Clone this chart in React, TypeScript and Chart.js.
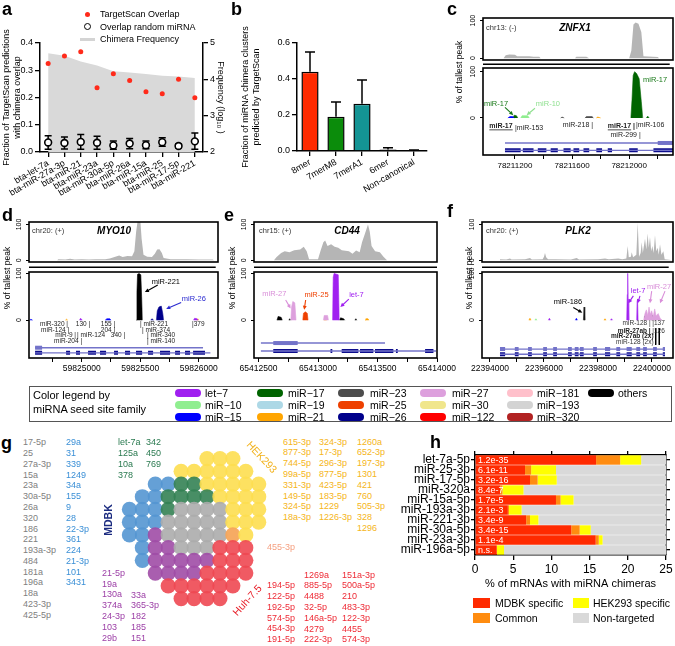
import React, { useEffect, useRef } from 'react';
import { Chart, registerables } from 'chart.js';

Chart.register(...registerables);
const FONT = "'Liberation Sans', Arial, Helvetica, sans-serif";
Chart.defaults.font.family = FONT;
Chart.defaults.color = '#000';

// ---------------- Panel a ----------------
const aMirnas = ['bta-let-7a', 'bta-miR-27a-3p', 'bta-miR-21', 'bta-miR-23a', 'bta-miR-30a-5p', 'bta-miR-26a', 'bta-miR-15a', 'bta-miR-25', 'bta-miR-17-5p', 'bta-miR-221'];
const aTargetScan = [0.325, 0.352, 0.368, 0.236, 0.287, 0.262, 0.221, 0.214, 0.267, 0.199];
const aRandom = [0.035, 0.033, 0.037, 0.034, 0.024, 0.031, 0.025, 0.036, 0.022, 0.039];
const aRandomLow = [0.010, 0.011, 0.010, 0.010, 0.010, 0.012, 0.012, 0.021, 0.015, 0.010];
const aRandomHigh = [0.060, 0.055, 0.064, 0.058, 0.040, 0.050, 0.040, 0.052, 0.030, 0.070];
const aChimeraLog = [4.72, 4.65, 4.49, 4.38, 4.22, 4.19, 4.15, 4.10, 4.08, 4.04];

// ---------------- Panel b ----------------
const bSites = ['8mer', '7merM8', '7merA1', '6mer', 'Non-canonical'];
const bFraction = [0.44, 0.19, 0.262, 0.008, 0.004];
const bErrHigh = [0.55, 0.272, 0.395, 0.018, 0.006];
const bColors = ['#ff2a00', '#0b8c0b', '#149494', '#777777', '#777777'];

// ---------------- Panel h ----------------
const hMirnas = ['let-7a-5p', 'miR-25-3p', 'miR-17-5p', 'miR-320a', 'miR-15a-5p', 'miR-193a-3p', 'miR-221-3p', 'miR-30a-5p', 'miR-23a-3p', 'miR-196a-5p'];
const hMdbk = [15.85, 6.55, 7.2, 3.3, 10.6, 4.3, 6.7, 12.6, 15.8, 2.85];
const hCommon = [3.15, 0.8, 1.0, 0.3, 0.6, 0.15, 0.5, 1.1, 0.4, 0];
const hHek = [2.75, 3.25, 2.5, 2.75, 1.7, 1.65, 1.1, 1.45, 0.5, 0.95];
const hPvals = ['1.2e-35', '6.1e-11', '3.2e-16', '8.4e-7', '1.7e-5', '2.1e-3', '3.4e-9', '3.4e-15', '1.1e-4', 'n.s.'];
const hTotal = 25;

// ---------------- Panel g ----------------
const gGrid = [
  '      YYY  ',
  '    YYYYYY ',
  '  BBGGYYYYY',
  ' BBGGGGYYYY',
  'BBBGSSSSYYY',
  'BBBSSSSSYYY',
  'BBPSSSSSOY ',
  ' BPPSSSRRR ',
  ' BPPPPPRRR ',
  '  PPPPRRRR ',
  '   RRRRRR  ',
  '    RRRR   ',
];
const gColorMap: Record<string, string> = {
  B: 'rgba(84,150,210,0.9)', G: 'rgba(52,130,84,0.9)', S: 'rgba(172,172,172,0.9)', Y: 'rgba(253,222,80,0.9)',
  P: 'rgba(160,76,166,0.9)', R: 'rgba(238,72,82,0.9)', O: 'rgba(246,166,92,0.95)',
};
const gGrey = ['17-5p', '25', '27a-3p', '15a', '23a', '30a-5p', '26a', '320', '186', '221', '193a-3p', '484', '181a', '196a', '18a', '423-3p', '425-5p'];
const gBlue = ['29a', '31', '339', '1249', '34a', '155', '9', '28', '22-3p', '361', '224', '21-3p', '101', '3431'];
const gGreen1 = ['let-7a', '125a', '10a', '378'];
const gGreen2 = ['342', '450', '769'];
const gPurple1 = ['21-5p', '19a', '130a', '374a', '24-3p', '103', '29b'];
const gPurple2 = ['33a', '365-3p', '182', '185', '151'];
const gYellow1 = ['615-3p', '877-3p', '744-5p', '99a-5p', '331-3p', '149-5p', '324-5p', '18a-3p'];
const gYellow2 = ['324-3p', '17-3p', '296-3p', '877-5p', '423-5p', '183-5p', '1229', '1226-3p'];
const gYellow3 = ['1260a', '652-3p', '197-3p', '1301', '421', '760', '505-3p', '328', '1296'];
const gRed1 = ['194-5p', '122-5p', '192-5p', '574-5p', '454-3p', '191-5p'];
const gRed2 = ['1269a', '885-5p', '4488', '32-5p', '146a-5p', '4279', '222-3p'];
const gRed3 = ['151a-3p', '500a-5p', '210', '483-3p', '122-3p', '4455', '574-3p'];

// ---------------- Seed family legend ----------------
const famNames = ['let\u22127', 'miR\u221210', 'miR\u221215', 'miR\u221217', 'miR\u221219', 'miR\u221221', 'miR\u221223', 'miR\u221225', 'miR\u221226', 'miR\u221227', 'miR\u221230', 'miR\u2212122', 'miR\u2212181', 'miR\u2212193', 'miR\u2212320', 'others'];
const famColors = ['#a020f0', '#90ee90', '#0000ff', '#006400', '#add8e6', '#ffa500', '#4d4d4d', '#ee4000', '#00008b', '#dda0dd', '#f0e68c', '#ff0000', '#ffc0cb', '#d3d3d3', '#b22222', '#000000'];

// ---------------- Panel c (ZNFX1) ----------------
const cTicks = [78211200, 78211400, 78211600, 78211800, 78212000, 78212200];
const cTickLabels = [78211200, 78211600, 78212000];
const cCoverage = [[78210976, 0], [78211120, 0], [78211135, 8], [78211160, 10], [78211200, 9], [78211215, 5], [78211300, 5], [78211330, 4], [78211370, 4], [78211380, 0], [78211620, 0], [78211630, 4], [78211700, 4], [78211720, 0], [78212000, 0], [78212015, 20], [78212030, 90], [78212045, 95], [78212065, 92], [78212085, 70], [78212100, 5], [78212200, 3], [78212210, 0], [78212307, 0]];
const cSites = [78211172, 78211536, 78211669, 78211858, 78212047];
const cPeaks = [
  { color: '#006400', pts: [[78212012, 0], [78212020, 40], [78212028, 92], [78212038, 100], [78212052, 96], [78212070, 85], [78212085, 35], [78212095, 0]] },
  { color: '#0000ff', pts: [[78211150, 0], [78211165, 3], [78211185, 3], [78211195, 0]] },
  { color: '#006400', pts: [[78211185, 0], [78211195, 6], [78211210, 5], [78211220, 0]] },
  { color: '#90ee90', pts: [[78211240, 0], [78211250, 5], [78211290, 5], [78211300, 0]] },
  { color: '#4d4d4d', pts: [[78211520, 0], [78211530, 2], [78211545, 0]] },
  { color: '#4d4d4d', pts: [[78211690, 0], [78211700, 3], [78211740, 3], [78211750, 0]] },
  { color: '#ffa500', pts: [[78211770, 0], [78211780, 2], [78211800, 0]] },
  { color: '#006400', pts: [[78212120, 0], [78212130, 4], [78212140, 0]] },
];
const cTranscripts = [[78211130, 78212307], [78211130, 78212307]];
const cExons1 = [[78212200, 78212307]];
const cExons2 = [[78211130, 78211240], [78211255, 78211330], [78211360, 78211420], [78211450, 78211500], [78211540, 78211590], [78211610, 78211650], [78211680, 78211720], [78211770, 78211810], [78211850, 78211880], [78212000, 78212060], [78212170, 78212307]];
const cGeneY = [-54, -70];
const cLabels = [
  { x: 78211067, y: 30, t: 'miR-17', a: 'center', c: '#1a7a1a', s: 7.5 },
  { x: 78211431, y: 30, t: 'miR-10', a: 'center', c: '#8fe08f', s: 7.5 },
  { x: 78212097, y: 83, t: 'miR-17', a: 'left', c: '#1a7a1a', s: 7.5 },
  { x: 78211102, y: -17, t: 'miR-17', a: 'center', b: true, u: true, s: 7 },
  { x: 78211200, y: -22, t: '|miR-153', a: 'left', s: 7 },
  { x: 78211747, y: -15, t: 'miR-218 |', a: 'right', s: 7 },
  { x: 78212041, y: -17, t: 'miR-17 |', a: 'right', b: true, u: true, s: 7 },
  { x: 78212048, y: -15, t: '|miR-106', a: 'left', s: 7 },
  { x: 78212081, y: -37, t: 'miR-299 |', a: 'right', s: 7 },
];
const cArrows = [
  { x1: 78211130, y1: 23, x2: 78211188, y2: 6, c: '#1a7a1a' },
  { x1: 78211340, y1: 21, x2: 78211282, y2: 6, c: '#8fe08f' },
];

// ---------------- Panel d (MYO10) ----------------
const dTicks = [59824750, 59825000, 59825250, 59825500, 59825750, 59826000];
const dTickLabels = [59825000, 59825500, 59826000];
const dCoverage = [[59824549, 0], [59824790, 0], [59824800, 3], [59824860, 2], [59824900, 4], [59824940, 2], [59825000, 3], [59825060, 2], [59825120, 3], [59825200, 3], [59825240, 5], [59825280, 9], [59825320, 13], [59825350, 9], [59825390, 12], [59825430, 11], [59825450, 25], [59825465, 80], [59825480, 115], [59825500, 115], [59825512, 60], [59825528, 15], [59825560, 10], [59825600, 9], [59825625, 18], [59825645, 30], [59825665, 31], [59825685, 20], [59825700, 6], [59825760, 3], [59825900, 3], [59826000, 2], [59826120, 2], [59826130, 0], [59826165, 0]];
const dSites = [59824609, 59824872, 59824966, 59825094, 59825436, 59825490, 59825678, 59825778, 59825963];
const dPeaks = [
  { color: '#000000', pts: [[59825466, 0], [59825472, 60], [59825477, 98], [59825490, 100], [59825505, 97], [59825512, 50], [59825518, 0]] },
  { color: '#00008b', pts: [[59825638, 0], [59825646, 20], [59825660, 28], [59825680, 30], [59825692, 15], [59825700, 0]] },
  { color: '#0000ff', pts: [[59824555, 0], [59824565, 2], [59824580, 0]] },
  { color: '#ffa500', pts: [[59824860, 0], [59824870, 2], [59824880, 0]] },
  { color: '#a020f0', pts: [[59824980, 0], [59824990, 4], [59825005, 0]] },
  { color: '#0000ff', pts: [[59825200, 0], [59825215, 3], [59825240, 3], [59825250, 0]] },
  { color: '#00008b', pts: [[59825590, 0], [59825600, 3], [59825615, 0]] },
  { color: '#a020f0', pts: [[59825955, 0], [59825965, 4], [59825985, 3], [59825995, 0]] },
  { color: '#ffa500', pts: [[59825985, 0], [59825992, 3], [59826000, 0]] },
];
const dTranscripts = [[59824601, 59826037], [59824601, 59826100]];
const dExons1 = [[59824601, 59824661]];
const dExons2 = [[59824601, 59824661], [59824866, 59824900], [59824951, 59824985], [59825054, 59825122], [59825156, 59825208], [59825276, 59825310], [59825370, 59825413], [59825464, 59825516], [59825567, 59825610], [59825669, 59825755], [59825798, 59825840], [59825883, 59825926], [59825952, 59826054]];
const dGeneY = [-59, -70];
const dLabels = [
  { x: 59825598, y: 82, t: 'miR-221', a: 'left', c: '#000', s: 7.5 },
  { x: 59825855, y: 45, t: 'miR-26', a: 'left', c: '#2a2ad0', s: 7.5 },
  { x: 59824883, y: -9, t: 'miR-320 |', a: 'right', s: 6.5 },
  { x: 59825072, y: -9, t: '130 |', a: 'right', s: 6.5 },
  { x: 59825286, y: -9, t: '155 |', a: 'right', s: 6.5 },
  { x: 59825498, y: -9, t: '| miR-221', a: 'left', s: 6.5 },
  { x: 59825943, y: -9, t: '|379', a: 'left', s: 6.5 },
  { x: 59824892, y: -21, t: 'miR-124 |', a: 'right', s: 6.5 },
  { x: 59825286, y: -21, t: '204 |', a: 'right', s: 6.5 },
  { x: 59825515, y: -21, t: '| miR-374', a: 'left', s: 6.5 },
  { x: 59824951, y: -33, t: 'miR-9 |', a: 'right', s: 6.5 },
  { x: 59824960, y: -33, t: '| miR-124', a: 'left', s: 6.5 },
  { x: 59825371, y: -33, t: '340 |', a: 'right', s: 6.5 },
  { x: 59825558, y: -33, t: '| miR-340', a: 'left', s: 6.5 },
  { x: 59825003, y: -46, t: 'miR-204 |', a: 'right', s: 6.5 },
  { x: 59825558, y: -46, t: '| miR-140', a: 'left', s: 6.5 },
];
const dArrows = [
  { x1: 59825650, y1: 75, x2: 59825540, y2: 60, c: '#000' },
  { x1: 59825850, y1: 38, x2: 59825722, y2: 24, c: '#2a2ad0' },
];

// ---------------- Panel e (CD44) ----------------
const eTicks = [65412500, 65412750, 65413000, 65413250, 65413500, 65413750, 65414000];
const eTickLabels = [65412500, 65413000, 65413500, 65414000];
const eCoverage = [[65412462, 0], [65412630, 0], [65412650, 8], [65412690, 20], [65412720, 25], [65412760, 22], [65412800, 28], [65412850, 30], [65412880, 38], [65412905, 25], [65412925, 3], [65413000, 3], [65413020, 25], [65413045, 50], [65413060, 55], [65413080, 40], [65413110, 45], [65413140, 38], [65413170, 35], [65413200, 28], [65413260, 25], [65413290, 18], [65413320, 27], [65413350, 22], [65413370, 50], [65413395, 75], [65413420, 100], [65413435, 80], [65413450, 40], [65413480, 25], [65413520, 22], [65413550, 10], [65413580, 0], [65414000, 0]];
const eSites = [65412877, 65413070, 65413296, 65413405, 65413522];
const ePeaks = [
  { color: '#dda0dd', pts: [[65412772, 0], [65412778, 28], [65412788, 40], [65412805, 37], [65412815, 0]] },
  { color: '#ee4000', pts: [[65412872, 0], [65412878, 15], [65412895, 18], [65412910, 14], [65412916, 0]] },
  { color: '#a020f0', pts: [[65413122, 0], [65413128, 92], [65413135, 100], [65413170, 97], [65413178, 0]] },
  { color: '#000000', pts: [[65412655, 0], [65412665, 8], [65412690, 6], [65412700, 0]] },
  { color: '#000000', pts: [[65412755, 0], [65412762, 3], [65412770, 0]] },
  { color: '#dda0dd', pts: [[65413045, 0], [65413052, 10], [65413080, 10], [65413088, 0]] },
  { color: '#ffa500', pts: [[65413050, 0], [65413058, 3], [65413070, 0]] },
  { color: '#000000', pts: [[65413180, 0], [65413190, 5], [65413215, 3], [65413225, 0]] },
  { color: '#000000', pts: [[65413310, 0], [65413318, 3], [65413326, 0]] },
  { color: '#ffa500', pts: [[65413395, 0], [65413402, 3], [65413420, 3], [65413428, 0]] },
];
const eTranscripts = [[65412520, 65413563], [65412520, 65413992]];
const eExons1 = [[65412624, 65412829]];
const eExons2 = [[65412624, 65412829], [65413105, 65413120], [65413199, 65413339], [65413353, 65413465], [65413479, 65413633], [65413655, 65413670], [65413900, 65413970]];
const eGeneY = [-49, -66];
const eLabels = [
  { x: 65412633, y: 56, t: 'miR-27', a: 'center', c: '#d98fd9', s: 7.5 },
  { x: 65412987, y: 53, t: 'miR-25', a: 'center', c: '#ee4000', s: 7.5 },
  { x: 65413323, y: 53, t: 'let-7', a: 'center', c: '#a020f0', s: 7.5 },
];
const eArrows = [
  { x1: 65412728, y1: 43, x2: 65412770, y2: 25, c: '#d98fd9' },
  { x1: 65412896, y1: 43, x2: 65412884, y2: 22, c: '#ee4000' },
  { x1: 65413259, y1: 45, x2: 65413188, y2: 28, c: '#a020f0' },
];

// ---------------- Panel f (PLK2) ----------------
const fTicks = [22394000, 22395000, 22396000, 22397000, 22398000, 22399000, 22400000];
const fTickLabels = [22394000, 22396000, 22398000, 22400000];
const fCoverage = [[22393704, 0], [22394350, 0], [22394370, 3], [22394600, 2], [22394741, 5], [22394800, 2], [22395300, 3], [22395482, 6], [22395550, 2], [22395950, 3], [22396000, 10], [22396037, 20], [22396080, 8], [22396150, 3], [22396408, 3], [22397000, 2], [22397211, 6], [22397300, 2], [22398000, 3], [22398260, 5], [22398400, 3], [22398752, 5], [22398900, 3], [22399050, 5], [22399100, 40], [22399140, 8], [22399220, 10], [22399249, 22], [22399300, 8], [22399420, 15], [22399471, 105], [22399520, 10], [22399580, 20], [22399619, 50], [22399660, 20], [22399741, 60], [22399790, 30], [22399840, 75], [22399880, 35], [22399926, 65], [22399970, 25], [22400012, 40], [22400060, 20], [22400111, 70], [22400160, 25], [22400210, 35], [22400250, 15], [22400297, 45], [22400350, 15], [22400420, 25], [22400470, 3], [22400778, 0]];
const fSites = [22394580, 22395519, 22396100, 22396445, 22396938, 22397148, 22397457, 22397889, 22398346, 22398878, 22399124, 22399470, 22399716, 22399889, 22400049, 22400174, 22400297, 22400359, 22400456];
const fPeaks = [
  { color: '#dda0dd', pts: [[22399690, 0], [22399740, 14], [22399790, 22], [22399840, 10], [22399890, 28], [22399940, 12], [22399990, 20], [22400040, 6], [22400100, 24], [22400150, 9], [22400230, 14], [22400300, 4], [22400380, 0]] },
  { color: '#a020f0', pts: [[22399060, 0], [22399085, 55], [22399100, 100], [22399118, 45], [22399140, 0]] },
  { color: '#a020f0', pts: [[22399430, 0], [22399450, 42], [22399465, 45], [22399485, 0]] },
  { color: '#000000', pts: [[22397460, 0], [22397485, 28], [22397510, 0]] },
  { color: '#000000', pts: [[22399715, 0], [22399735, 9], [22399755, 0]] },
  { color: '#000000', pts: [[22399985, 0], [22400005, 10], [22400025, 0]] },
  { color: '#ffa500', pts: [[22395440, 0], [22395480, 4], [22395520, 0]] },
  { color: '#90ee90', pts: [[22395660, 0], [22395700, 3], [22395740, 0]] },
  { color: '#a020f0', pts: [[22396160, 0], [22396200, 4], [22396240, 0]] },
  { color: '#0000ff', pts: [[22397160, 0], [22397200, 4], [22397240, 0]] },
  { color: '#a020f0', pts: [[22398460, 0], [22398500, 3], [22398540, 0]] },
  { color: '#ffa500', pts: [[22398220, 0], [22398260, 3], [22398300, 0]] },
];
const fTranscripts = [[22394370, 22400482], [22394370, 22400482]];
const fExons = [[22394370, 22394560], [22394920, 22395060], [22395410, 22395550], [22395970, 22396110], [22396340, 22396480], [22396890, 22397030], [22397140, 22397280], [22397330, 22397470], [22397820, 22397960], [22398260, 22398450], [22398680, 22398820], [22399060, 22399250], [22399420, 22399560], [22399670, 22399810], [22400040, 22400180], [22400400, 22400482]];
const fGeneY = [-62, -73];
const fBars = [[22400137, -17, -53], [22400270, -17, -53]];
const fLabels = [
  { x: 22396889, y: 40, t: 'miR-186', a: 'center', c: '#000', s: 7.5 },
  { x: 22399482, y: 62, t: 'let-7', a: 'center', c: '#a020f0', s: 7.5 },
  { x: 22400260, y: 72, t: 'miR-27', a: 'center', c: '#d98fd9', s: 7.5 },
  { x: 22399950, y: -6, t: 'miR-128 |', a: 'right', c: '#333', s: 6.5 },
  { x: 22400010, y: -6, t: '|137', a: 'left', c: '#333', s: 6.5 },
  { x: 22399950, y: -23, t: 'miR-27ab |', a: 'right', b: true, s: 6.5 },
  { x: 22400010, y: -23, t: '|126', a: 'left', c: '#333', s: 6.5 },
  { x: 22400060, y: -35, t: 'miR-27ab (2x)', a: 'right', b: true, s: 6.5 },
  { x: 22400060, y: -47, t: 'miR-128 (2x)', a: 'right', c: '#333', s: 6.5 },
];
const fArrows = [
  { x1: 22397085, y1: 27, x2: 22397419, y2: 16, c: '#000' },
  { x1: 22399309, y1: 52, x2: 22399124, y2: 36, c: '#a020f0' },
  { x1: 22399556, y1: 52, x2: 22399470, y2: 36, c: '#a020f0' },
  { x1: 22399988, y1: 62, x2: 22399926, y2: 36, c: '#d98fd9' },
  { x1: 22400482, y1: 62, x2: 22400297, y2: 36, c: '#d98fd9' },
];

// ---------------- helpers ----------------
type Spec = { id: string; x: number; y: number; w: number; h: number; cfg: () => any };
const zeroPad = (s: any) => { s.paddingTop = 0; s.paddingBottom = 0; s.paddingLeft = 0; s.paddingRight = 0; };
const fitW = (w: number) => (s: any) => { s.width = w; zeroPad(s); };
const fitH = (h: number) => (s: any) => { s.height = h; zeroPad(s); };
const base = { responsive: false, animation: false, events: [] as any[], devicePixelRatio: 1 };
const noPlug = { legend: { display: false }, tooltip: { enabled: false } };
const tickGrid = (len: number) => ({ display: true, drawOnChartArea: false, drawTicks: true, tickLength: len, color: '#000', lineWidth: 1.3 });
const axBorder = { display: true, color: '#000', width: 1.5 };

const specs: Spec[] = [];

// Panel a chart
specs.push({
  id: 'a', x: 0, y: 0, w: 228, h: 225,
  cfg: () => ({
    type: 'line',
    data: {
      labels: aMirnas,
      datasets: [
        { data: aChimeraLog, yAxisID: 'y1', fill: 'start', backgroundColor: '#d9d9d9', borderWidth: 0, pointRadius: 0, order: 10 },
        { data: aTargetScan, yAxisID: 'y', showLine: false, pointRadius: 2.5, pointBackgroundColor: '#ff2a1a', pointBorderWidth: 0 },
        { data: aRandom, yAxisID: 'y', showLine: false, pointRadius: 3.4, pointBackgroundColor: '#fff', pointBorderColor: '#000', pointBorderWidth: 1.6 },
      ],
    },
    options: {
      ...base, plugins: noPlug, layout: { padding: { top: 43, right: 0, bottom: 0, left: 0 } },
      scales: {
        x: { offset: true, grid: { ...tickGrid(5), offset: false }, border: axBorder, ticks: { autoSkip: false, minRotation: 30, maxRotation: 30, font: { size: 9 }, padding: 1 }, afterFit: fitH(73) },
        y: { position: 'left', min: 0, max: 0.4, grid: tickGrid(5), border: axBorder, ticks: { stepSize: 0.1, font: { size: 9 }, padding: 2, callback: (v: any) => Number(v).toFixed(1) }, title: { display: true, text: ['Fraction of TargetScan predictions', 'with chimera overlap'], font: { size: 9 }, padding: { top: 1.5, bottom: 0 } }, afterFit: fitW(40) },
        y1: { position: 'right', min: 2, max: 5, grid: tickGrid(5), border: axBorder, ticks: { stepSize: 1, font: { size: 9 }, padding: 2 }, title: { display: true, text: 'Frequency (log\u2081\u2080 )', font: { size: 9 }, padding: { top: 2.5, bottom: 0 } }, afterFit: fitW(25) },
      },
    },
    plugins: [{
      id: 'errA',
      afterDatasetDraw(chart: any, args: any) {
        if (args.index !== 0) return;
        const { ctx, scales } = chart; const x = scales.x, y = scales.y;
        ctx.save(); ctx.strokeStyle = '#000'; ctx.lineWidth = 1.5;
        aRandom.forEach((_, i) => {
          const px = x.getPixelForValue(i); const lo = y.getPixelForValue(aRandomLow[i]); const hi = y.getPixelForValue(aRandomHigh[i]);
          ctx.beginPath(); ctx.moveTo(px, lo); ctx.lineTo(px, hi);
          ctx.moveTo(px - 3.5, lo); ctx.lineTo(px + 3.5, lo); ctx.moveTo(px - 3.5, hi); ctx.lineTo(px + 3.5, hi); ctx.stroke();
        });
        ctx.restore();
      },
    }],
  }),
});

// Panel b chart
specs.push({
  id: 'b', x: 230, y: 0, w: 200, h: 225,
  cfg: () => ({
    type: 'bar',
    data: { labels: bSites, datasets: [{ data: bFraction, backgroundColor: bColors, borderColor: '#000', borderWidth: 1.5, barPercentage: 0.66, categoryPercentage: 1 }] },
    options: {
      ...base, plugins: noPlug, layout: { padding: { top: 43, right: 3, bottom: 0, left: 0 } },
      scales: {
        x: { grid: { ...tickGrid(5), offset: false }, border: axBorder, ticks: { autoSkip: false, minRotation: 30, maxRotation: 30, font: { size: 9 }, padding: 1 }, afterFit: fitH(74) },
        y: { min: 0, max: 0.6, grid: tickGrid(5), border: axBorder, ticks: { stepSize: 0.2, font: { size: 9 }, padding: 2, callback: (v: any) => Number(v).toFixed(1) }, title: { display: true, text: ['Fraction of miRNA chimera clusters', 'predicted by TargetScan'], font: { size: 9 }, padding: { top: 10.5, bottom: 0 } }, afterFit: fitW(67) },
      },
    },
    plugins: [{
      id: 'errB',
      afterDatasetsDraw(chart: any) {
        const { ctx, scales } = chart; const x = scales.x, y = scales.y;
        ctx.save(); ctx.strokeStyle = '#000'; ctx.lineWidth = 1.5;
        bFraction.forEach((v, i) => {
          const px = x.getPixelForValue(i); const t = y.getPixelForValue(v); const hi = y.getPixelForValue(bErrHigh[i]);
          ctx.beginPath(); ctx.moveTo(px, t); ctx.lineTo(px, hi); ctx.moveTo(px - 5, hi); ctx.lineTo(px + 5, hi); ctx.stroke();
        });
        ctx.restore();
      },
    }],
  }),
});

// Panel h chart
specs.push({
  id: 'h', x: 395, y: 445, w: 280, h: 150,
  cfg: () => ({
    type: 'bar',
    data: {
      labels: hMirnas,
      datasets: [
        { label: 'MDBK specific', data: hMdbk, backgroundColor: '#ff2a00' },
        { label: 'Common', data: hCommon, backgroundColor: '#ff8c10' },
        { label: 'HEK293 specific', data: hHek, backgroundColor: '#ffff00' },
        { label: 'Non-targeted', data: hMirnas.map((_, i) => hTotal - hMdbk[i] - hCommon[i] - hHek[i]), backgroundColor: '#d9d9d9' },
      ].map(d => ({ ...d, borderWidth: 0, barPercentage: 0.94, categoryPercentage: 1 })),
    },
    options: {
      ...base, indexAxis: 'y', plugins: noPlug, layout: { padding: 0 },
      scales: {
        x: { stacked: true, min: 0, max: 25, position: 'bottom', grid: tickGrid(5), border: axBorder, ticks: { stepSize: 5, font: { size: 12 }, padding: 2 }, title: { display: true, text: '% of mRNAs with miRNA chimeras', font: { size: 11 }, padding: { top: 0, bottom: 4 } }, afterFit: fitH(40) },
        x2: { type: 'linear', min: 0, max: 25, position: 'top', grid: tickGrid(4), border: axBorder, ticks: { display: false, stepSize: 5 }, afterFit: fitH(10) },
        y: { stacked: true, grid: { ...tickGrid(4), offset: false }, border: axBorder, ticks: { font: { size: 12 }, padding: 1, autoSkip: false }, afterFit: fitW(80) },
        y2: { type: 'category', labels: hMirnas, offset: true, position: 'right', grid: { ...tickGrid(4), offset: false }, border: axBorder, ticks: { display: false, autoSkip: false }, afterFit: fitW(9) },
      },
    },
    plugins: [{
      id: 'pvals',
      afterDatasetsDraw(chart: any) {
        const { ctx, scales } = chart;
        ctx.save(); ctx.fillStyle = '#fff'; ctx.font = `9px ${FONT}`; ctx.textBaseline = 'middle';
        hPvals.forEach((p, i) => ctx.fillText(p, scales.x.getPixelForValue(0) + 3, scales.y.getPixelForValue(i) + 0.5));
        ctx.restore();
      },
    }],
  }),
});

// Panel g circles chart
specs.push({
  id: 'g', x: 110, y: 440, w: 170, h: 180,
  cfg: () => {
    const pts: any[] = []; const cols: string[] = [];
    gGrid.forEach((row, r) => row.split('').forEach((ch, c) => { if (ch !== ' ') { pts.push({ x: c, y: r }); cols.push(gColorMap[ch]); } }));
    return {
      type: 'scatter',
      data: { datasets: [{ data: pts, pointRadius: 7.6, pointBackgroundColor: cols, pointBorderWidth: 0 }] },
      options: {
        ...base, plugins: noPlug, layout: { padding: 0 },
        scales: { x: { display: false, min: -0.915, max: 11.06 }, y: { display: false, min: -0.863, max: 12.09, reverse: true } },
      },
    };
  },
});

// Genome panels
type G = {
  id: string; cl: number; cr: number; L: number; R: number; top: number; covBot: number; stripBot: number; bot: number;
  xMin: number; xMax: number; ticks: number[]; tickLabels: number[]; tickFont: number; cov: number[][]; sites: number[]; siteColor: string;
  peaks: { color: string; pts: number[][] }[]; tx: number[][]; exons: number[][][]; geneY: number[]; labels: any[]; arrows: any[]; bars?: number[][];
  mainMin: number; mainMax: number;
};

const boxPlugin = {
  id: 'box',
  afterDraw(chart: any) {
    const { ctx, chartArea: a } = chart;
    ctx.save(); ctx.strokeStyle = '#000'; ctx.lineWidth = 1.6;
    ctx.strokeRect(a.left, a.top, a.right - a.left, a.bottom - a.top); ctx.restore();
  },
};

function genome(g: G) {
  const yW = g.L - g.cl; const w = g.cr - g.cl; const padR = g.cr - g.R; const padT = 8;
  const xHidden = { type: 'linear', min: g.xMin, max: g.xMax, display: false };
  const yAx = (min: number, max: number, show: boolean) => ({
    type: 'linear', min, max, position: 'left',
    afterBuildTicks: (s: any) => { s.ticks = show ? [{ value: 0 }, { value: 100 }] : []; },
    ticks: { display: show, font: { size: 7 }, minRotation: 90, maxRotation: 90, crossAlign: 'center', padding: 1 },
    grid: { display: show, drawOnChartArea: false, drawTicks: true, tickLength: 3, color: '#000', lineWidth: 1 },
    border: { display: false },
    afterFit: fitW(yW),
  });
  const xy = (pts: number[][]) => pts.map(([x, y]) => ({ x, y }));
  specs.push({
    id: g.id + 'cov', x: g.cl, y: g.top - padT, w, h: g.covBot - g.top + padT + 1,
    cfg: () => ({
      type: 'line',
      data: { datasets: [{ data: xy(g.cov), fill: 'origin', backgroundColor: '#b5b5b5', borderWidth: 0, pointRadius: 0 }] },
      options: { ...base, plugins: noPlug, layout: { padding: { top: padT, bottom: 1, left: 0, right: padR } }, scales: { x: xHidden, y: yAx(-5, 107, true) } },
      plugins: [boxPlugin],
    }),
  });
  specs.push({
    id: g.id + 'strip', x: g.cl, y: g.covBot - 1, w, h: g.stripBot - g.covBot + 2,
    cfg: () => ({
      type: 'scatter',
      data: { datasets: [{ data: g.sites.map(x => ({ x, y: 0.5 })), pointStyle: 'line', pointRotation: 90, pointRadius: (g.stripBot - g.covBot) / 2, pointBorderColor: g.siteColor, pointBorderWidth: 1.3 }] },
      options: { ...base, plugins: noPlug, layout: { padding: { top: 1, bottom: 1, left: 0, right: padR } }, scales: { x: xHidden, y: yAx(0, 1, false) } },
      plugins: [boxPlugin],
    }),
  });
  const xH = 22;
  specs.push({
    id: g.id + 'main', x: g.cl, y: g.stripBot - padT, w, h: g.bot - g.stripBot + padT + xH,
    cfg: () => {
      const ds: any[] = [];
      g.peaks.forEach(p => ds.push({ data: xy(p.pts), fill: 'origin', backgroundColor: p.color, borderColor: p.color, borderWidth: 0.6, pointRadius: 0 }));
      const txColors = ['#7373c9', '#7373c9']; const exColors = ['#7373c9', '#0c0c8c'];
      g.tx.forEach((t, i) => ds.push({ data: [{ x: t[0], y: g.geneY[i] }, { x: t[1], y: g.geneY[i] }], borderColor: txColors[i], borderWidth: 1.4, pointRadius: 0, fill: false }));
      g.exons.forEach((ex, i) => ds.push({ data: ex.flatMap(([a, b]) => [{ x: a, y: g.geneY[i] }, { x: b, y: g.geneY[i] }, { x: b, y: null }]), borderColor: exColors[i], borderWidth: 4, borderCapStyle: 'butt', pointRadius: 0, fill: false, spanGaps: false }));
      (g.bars || []).forEach(b => ds.push({ data: [{ x: b[0], y: b[1] }, { x: b[0], y: b[2] }], borderColor: '#000', borderWidth: 1, pointRadius: 0, fill: false }));
      return {
        type: 'line',
        data: { datasets: ds },
        options: {
          ...base, plugins: noPlug, layout: { padding: { top: padT, bottom: 0, left: 0, right: padR } },
          scales: {
            x: {
              type: 'linear', min: g.xMin, max: g.xMax,
              afterBuildTicks: (s: any) => { s.ticks = g.ticks.map(v => ({ value: v })); },
              ticks: { autoSkip: false, minRotation: 0, maxRotation: 0, font: { size: g.tickFont }, padding: 2, callback: (v: any) => (g.tickLabels.includes(v) ? String(v) : '') },
              grid: { display: true, drawOnChartArea: false, drawTicks: true, tickLength: 4, color: '#000', lineWidth: 1 },
              border: { display: false },
              afterFit: fitH(xH),
            },
            y: yAx(g.mainMin, g.mainMax, true),
          },
        },
        plugins: [boxPlugin, {
          id: 'annot',
          afterDatasetsDraw(chart: any) {
            const { ctx, scales } = chart; const X = scales.x, Y = scales.y;
            ctx.save();
            g.arrows.forEach((a: any) => {
              const x1 = X.getPixelForValue(a.x1), y1 = Y.getPixelForValue(a.y1), x2 = X.getPixelForValue(a.x2), y2 = Y.getPixelForValue(a.y2);
              const ang = Math.atan2(y2 - y1, x2 - x1);
              ctx.strokeStyle = a.c; ctx.fillStyle = a.c; ctx.lineWidth = 1.1;
              ctx.beginPath(); ctx.moveTo(x1, y1); ctx.lineTo(x2 - 3 * Math.cos(ang), y2 - 3 * Math.sin(ang)); ctx.stroke();
              ctx.beginPath(); ctx.moveTo(x2, y2);
              ctx.lineTo(x2 - 4.5 * Math.cos(ang - 0.45), y2 - 4.5 * Math.sin(ang - 0.45));
              ctx.lineTo(x2 - 4.5 * Math.cos(ang + 0.45), y2 - 4.5 * Math.sin(ang + 0.45)); ctx.closePath(); ctx.fill();
            });
            g.labels.forEach((l: any) => {
              ctx.font = `${l.b ? 'bold ' : ''}${l.s || 7}px ${FONT}`;
              ctx.fillStyle = l.c || '#222'; ctx.textAlign = l.a || 'left'; ctx.textBaseline = 'middle';
              const px = X.getPixelForValue(l.x), py = Y.getPixelForValue(l.y);
              ctx.fillText(l.t, px, py);
              if (l.u) {
                const tw = ctx.measureText(l.t.replace(' |', '')).width;
                const sx = l.a === 'center' ? px - tw / 2 : l.a === 'right' ? px - ctx.measureText(l.t).width : px;
                ctx.strokeStyle = l.c || '#222'; ctx.lineWidth = 0.8; ctx.beginPath(); ctx.moveTo(sx, py + 4); ctx.lineTo(sx + tw, py + 4); ctx.stroke();
              }
            });
            ctx.restore();
          },
        }],
      };
    },
  });
}

genome({ id: 'c', cl: 430, cr: 675, L: 483, R: 673, top: 18, covBot: 60, stripBot: 68, bot: 155, xMin: 78210976, xMax: 78212307, ticks: cTicks, tickLabels: cTickLabels, tickFont: 8, cov: cCoverage, sites: cSites, siteColor: '#ff2a2a', peaks: cPeaks, tx: cTranscripts, exons: [cExons1, cExons2], geneY: cGeneY, labels: cLabels, arrows: cArrows, mainMin: -80, mainMax: 108 });
genome({ id: 'd', cl: 0, cr: 222, L: 29, R: 218, top: 222, covBot: 262, stripBot: 272, bot: 358, xMin: 59824549, xMax: 59826165, ticks: dTicks, tickLabels: dTickLabels, tickFont: 8.5, cov: dCoverage, sites: dSites, siteColor: '#ff2a2a', peaks: dPeaks, tx: dTranscripts, exons: [dExons1, dExons2], geneY: dGeneY, labels: dLabels, arrows: dArrows, mainMin: -81, mainMax: 103 });
genome({ id: 'e', cl: 225, cr: 462, L: 254, R: 437, top: 222, covBot: 262, stripBot: 272, bot: 358, xMin: 65412462, xMax: 65414000, ticks: eTicks, tickLabels: eTickLabels, tickFont: 8.5, cov: eCoverage, sites: eSites, siteColor: '#ff2a2a', peaks: ePeaks, tx: eTranscripts, exons: [eExons1, eExons2], geneY: eGeneY, labels: eLabels, arrows: eArrows, mainMin: -81, mainMax: 103 });
genome({ id: 'f', cl: 445, cr: 675, L: 482, R: 673, top: 222, covBot: 262, stripBot: 272, bot: 358, xMin: 22393704, xMax: 22400778, ticks: fTicks, tickLabels: fTickLabels, tickFont: 8.5, cov: fCoverage, sites: fSites, siteColor: '#ff9a9a', peaks: fPeaks, tx: fTranscripts, exons: [fExons, fExons], geneY: fGeneY, labels: fLabels, arrows: fArrows, bars: fBars, mainMin: -81, mainMax: 103 });

// ---------------- overlay texts ----------------
type TX = { x: number; y: number; t: string; s: number; c?: string; b?: boolean; i?: boolean; a?: 'l' | 'c' | 'r'; r?: number };
const texts: TX[] = [
  { x: 2, y: 9, t: 'a', s: 18, b: true }, { x: 231, y: 9, t: 'b', s: 18, b: true }, { x: 447, y: 9, t: 'c', s: 18, b: true },
  { x: 2, y: 215, t: 'd', s: 18, b: true }, { x: 224, y: 215, t: 'e', s: 18, b: true }, { x: 447, y: 211, t: 'f', s: 18, b: true },
  { x: 1, y: 443, t: 'g', s: 18, b: true }, { x: 430, y: 442, t: 'h', s: 18, b: true },
  { x: 100, y: 14, t: 'TargetScan Overlap', s: 9 }, { x: 100, y: 26.7, t: 'Overlap random miRNA', s: 9 }, { x: 100, y: 39.3, t: 'Chimera Frequency', s: 9 },
  { x: 459, y: 72, t: '% of tallest peak', s: 8.5, a: 'c', r: -90 },
  { x: 7, y: 278, t: '% of tallest peak', s: 8.5, a: 'c', r: -90 },
  { x: 232, y: 278, t: '% of tallest peak', s: 8.5, a: 'c', r: -90 },
  { x: 469, y: 278, t: '% of tallest peak', s: 8.5, a: 'c', r: -90 },
  { x: 486, y: 28, t: 'chr13: (-)', s: 7.5, c: '#333' }, { x: 575, y: 28, t: 'ZNFX1', s: 10, b: true, i: true, a: 'c' },
  { x: 32, y: 231, t: 'chr20: (+)', s: 7.5, c: '#333' }, { x: 114, y: 231, t: 'MYO10', s: 10, b: true, i: true, a: 'c' },
  { x: 259, y: 231, t: 'chr15: (+)', s: 7.5, c: '#333' }, { x: 347, y: 231, t: 'CD44', s: 10, b: true, i: true, a: 'c' },
  { x: 486, y: 231, t: 'chr20: (+)', s: 7.5, c: '#333' }, { x: 578, y: 231, t: 'PLK2', s: 10, b: true, i: true, a: 'c' },
  { x: 33, y: 395, t: 'Color legend by', s: 11 }, { x: 33, y: 409, t: 'miRNA seed site family', s: 11 },
  { x: 108, y: 520, t: 'MDBK', s: 10.5, b: true, c: '#1c2c80', a: 'c', r: -90 },
  { x: 262, y: 457, t: 'HEK293', s: 10.5, c: '#f2b21c', a: 'c', r: 47 },
  { x: 247, y: 600, t: 'Huh-7.5', s: 10.5, c: '#e8202a', a: 'c', r: -48 },
  { x: 267, y: 547, t: '455-3p', s: 9, c: '#f5a080' },
  { x: 495, y: 603, t: 'MDBK specific', s: 10.5 }, { x: 593, y: 603, t: 'HEK293 specific', s: 10.5 },
  { x: 495, y: 618, t: 'Common', s: 10.5 }, { x: 593, y: 618, t: 'Non-targeted', s: 10.5 },
];
const gCols = [
  { x: 23, y: 442.7, items: gGrey, c: '#808080' }, { x: 66, y: 442.7, items: gBlue, c: '#3a8fd6' },
  { x: 118, y: 442.7, items: gGreen1, c: '#2a7a50' }, { x: 146, y: 442.7, items: gGreen2, c: '#2a7a50' },
  { x: 102, y: 573.3, items: gPurple1, c: '#9c3ea6' }, { x: 131, y: 594.9, items: gPurple2, c: '#9c3ea6' },
  { x: 283, y: 442, items: gYellow1, c: '#f5b520' }, { x: 319, y: 442, items: gYellow2, c: '#f5b520' }, { x: 357, y: 442, items: gYellow3, c: '#f5b520' },
  { x: 267, y: 585.7, items: gRed1, c: '#ee2a35' }, { x: 304, y: 575, items: gRed2, c: '#ee2a35' }, { x: 342, y: 575, items: gRed3, c: '#ee2a35' },
];
const legPillX = [175, 257, 338, 420, 507, 588];
const legTextX = [205, 288, 370, 452, 537, 618];
const legRowY = [393, 405, 416.5];

function ChartBox({ spec }: { spec: Spec }) {
  const ref = useRef<HTMLCanvasElement>(null);
  useEffect(() => {
    const chart = new Chart(ref.current as HTMLCanvasElement, spec.cfg());
    return () => chart.destroy();
  }, []);
  return <canvas ref={ref} width={spec.w} height={spec.h} style={{ position: 'absolute', left: spec.x, top: spec.y, width: spec.w, height: spec.h }} />;
}

function Txt({ d }: { d: TX }) {
  const ax = d.a === 'c' ? '-50%' : d.a === 'r' ? '-100%' : '0%';
  return (
    <div style={{ position: 'absolute', left: d.x, top: d.y, fontSize: d.s, lineHeight: 1, whiteSpace: 'nowrap', color: d.c || '#000', fontWeight: d.b ? 'bold' : 'normal', fontStyle: d.i ? 'italic' : 'normal', transform: `translate(${ax}, -50%)` + (d.r ? ` rotate(${d.r}deg)` : '') }}>{d.t}</div>
  );
}

export default function App() {
  return (
    <div style={{ position: 'absolute', left: 0, top: 0, width: 675, height: 646, overflow: 'hidden', background: '#fff', fontFamily: FONT }}>
      {specs.map(s => <ChartBox key={s.id} spec={s} />)}
      {/* panel a legend markers */}
      <div style={{ position: 'absolute', left: 85.2, top: 11.5, width: 5, height: 5, borderRadius: 2.5, background: '#ff2a1a' }} />
      <div style={{ position: 'absolute', left: 84.2, top: 23.2, width: 7, height: 7, borderRadius: 4, border: '1.6px solid #000', boxSizing: 'border-box' }} />
      <div style={{ position: 'absolute', left: 80, top: 38, width: 15, height: 3, background: '#d4d4d4' }} />
      {/* seed family legend */}
      <div style={{ position: 'absolute', left: 29, top: 386, width: 643, height: 36, border: '1.5px solid #555', boxSizing: 'border-box' }} />
      {famNames.map((n, i) => {
        const col = Math.floor(i / 3), row = i % 3;
        return (
          <React.Fragment key={n}>
            <div style={{ position: 'absolute', left: legPillX[col], top: legRowY[row] - 4, width: 26, height: 8, borderRadius: 4, background: famColors[i] }} />
            <div style={{ position: 'absolute', left: legTextX[col], top: legRowY[row], transform: 'translate(0,-50%)', fontSize: 10.5, lineHeight: 1, whiteSpace: 'nowrap' }}>{n}</div>
          </React.Fragment>
        );
      })}
      {/* g columns */}
      {gCols.map((col, k) => (
        <div key={k} style={{ position: 'absolute', left: col.x, top: col.y - 5.4, fontSize: 9, lineHeight: '10.78px', color: col.c, whiteSpace: 'nowrap' }}>
          {col.items.map((t, i) => <div key={i}>{t}</div>)}
        </div>
      ))}
      {/* h legend boxes */}
      <div style={{ position: 'absolute', left: 473, top: 598, width: 17, height: 10, background: '#ff2a00' }} />
      <div style={{ position: 'absolute', left: 473, top: 613, width: 17, height: 10, background: '#ff8c10' }} />
      <div style={{ position: 'absolute', left: 573, top: 598, width: 16, height: 10, background: '#ffff00' }} />
      <div style={{ position: 'absolute', left: 573, top: 613, width: 16, height: 10, background: '#d9d9d9' }} />
      {texts.map((d, i) => <Txt key={i} d={d} />)}
    </div>
  );
}
